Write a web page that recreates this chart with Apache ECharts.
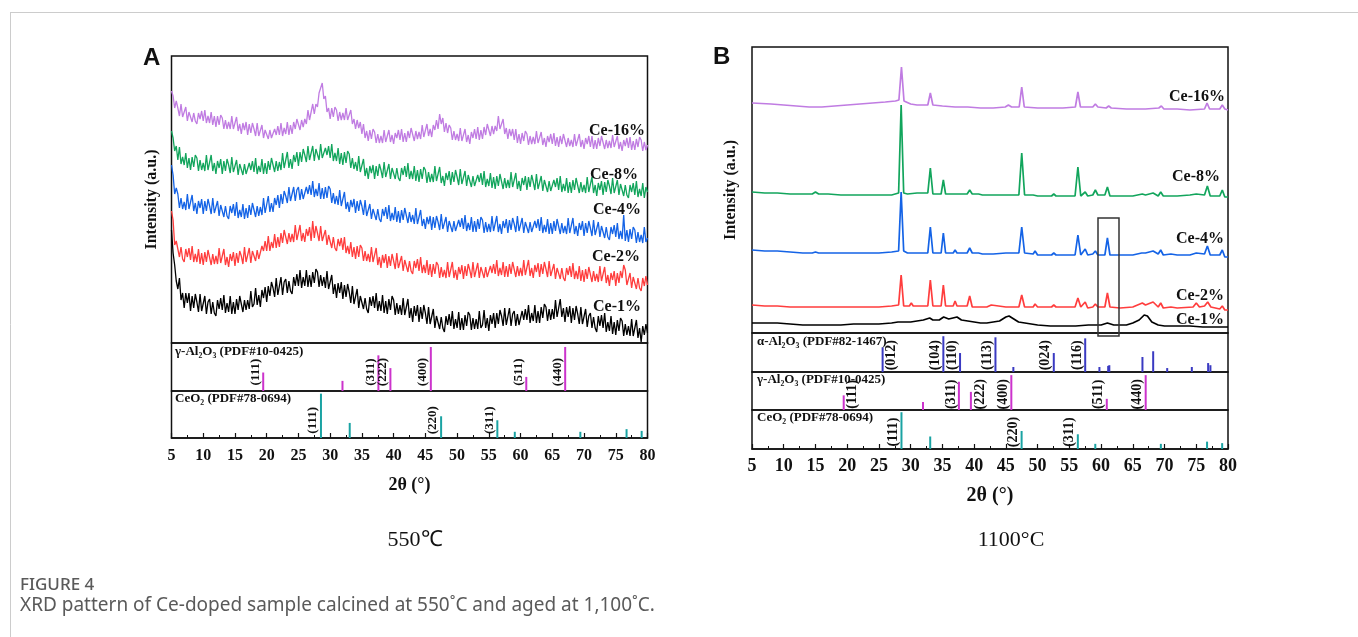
<!DOCTYPE html>
<html>
<head>
<meta charset="utf-8">
<script src="https://cdn.jsdelivr.net/npm/echarts/dist/echarts.min.js"></script>
<style>
  html, body { margin: 0; padding: 0; background: #ffffff; }
  #chart { width: 1358px; height: 637px; }
</style>
</head>
<body>
<div id="chart"></div>
<script>
// ---------- XRD data ----------
// 550 °C patterns: intensity (a.u., offset per sample), sampled every 0.25° from 5° to 80°
const THETA_START = 5;
const THETA_STEP = 0.25;

const a550Ce16 = [
252,247,235,242, 235,227,239,226, 225,236,222,231, 232,221,230,222, 219,230,224,232,
222,233,220,227, 220,231,218,227, 216,227,218,228, 225,214,223,214, 221,214,227,214,
215,226,212,219, 209,220,213,221, 208,219,210,220, 214,207,220,207, 207,218,205,213,
215,204,213,205, 203,214,208,217, 208,220,207,215, 209,221,208,218, 209,221,214,224,
223,213,223,216, 224,219,233,223, 225,239,229,239, 236,250,252,260, 244,247,231,235,
224,235,226,236, 233,222,231,223, 230,223,235,223, 223,233,219,224, 214,223,215,221,
209,219,205,212, 202,213,204,214, 211,200,209,200, 207,200,213,201, 202,213,201,208,
199,210,205,213, 203,214,201,210, 201,212,205,215, 213,202,212,204, 211,204,218,206,
207,219,207,214, 206,218,213,223, 214,229,219,225, 211,220,210,218, 215,203,212,203,
209,202,215,202, 203,214,201,208, 199,211,205,214, 204,216,203,213, 204,216,208,219,
217,207,217,209, 217,212,227,214, 214,224,209,215, 204,214,207,214, 203,214,200,209,
199,210,202,212, 209,198,207,199, 206,199,212,200, 200,211,198,205, 196,207,201,209,
199,210,197,206, 196,207,199,209, 207,196,205,197, 203,196,209,197, 198,209,196,203,
194,205,199,207, 196,207,194,203, 194,205,197,207, 205,194,203,195, 202,195,208,196,
196,207,194,201, 192,203,197,205, 195,206,193,202, 193,204,196,206, 203,192,201,193,
198];

const a550Ce8 = [
212,205,192,197, 183,196,179,186, 178,190,175,185, 173,186,176,188, 185,172,183,173,
180,172,188,173, 174,188,172,180, 169,182,175,184, 169,182,172,184, 178,170,186,171,
170,183,168,179, 181,168,179,169, 167,180,173,182, 171,185,169,177, 171,184,169,180,
169,182,173,185, 183,171,182,172, 181,173,190,175, 176,191,175,184, 174,188,181,191,
177,191,181,194, 188,181,197,183, 183,197,182,194, 196,183,199,185, 183,195,188,197,
185,199,182,190, 182,195,179,190, 178,191,180,192, 189,175,185,174, 181,172,187,171,
171,184,167,175, 164,177,170,178, 164,177,167,179, 173,165,181,166, 166,179,164,175,
177,164,175,165, 162,175,168,177, 166,180,164,172, 164,177,162,173, 161,174,164,176,
173,160,171,161, 169,161,177,162, 162,176,160,167, 157,170,163,172, 158,171,161,173,
166,158,174,159, 159,172,157,168, 169,156,167,157, 155,168,161,170, 158,172,156,164,
157,170,155,166, 154,167,157,169, 167,154,165,155, 163,155,171,156, 156,170,154,162,
152,165,158,167, 153,166,156,168, 161,153,169,154, 154,167,152,163, 164,151,162,152,
150,163,156,165, 153,167,151,159, 152,165,150,161, 150,163,153,165, 163,150,161,151,
158,150,166,151, 152,166,150,158, 147,160,153,162, 148,161,151,163, 157,149,165,150,
150,163,148,159, 160,147,158,148, 145,158,151,160, 148,162,146,154, 147,160,145,156,
151];

const a550Ce4 = [
178,168,149,155, 149,135,145,134, 141,133,149,134, 134,148,132,140, 129,142,135,144,
129,142,132,144, 137,129,145,130, 129,142,127,138, 139,126,137,127, 124,137,130,139,
127,141,125,133, 126,139,124,135, 125,138,128,140, 139,126,137,127, 136,128,145,130,
132,147,131,140, 131,145,138,148, 135,149,139,152, 147,140,156,142, 143,156,142,153,
156,143,154,144, 143,156,149,158, 148,162,146,154, 147,160,144,155, 144,156,145,157,
154,140,150,139, 147,138,153,137, 138,151,134,141, 131,143,136,144, 130,142,132,143,
137,128,143,127, 127,139,124,134, 136,123,134,124, 121,134,127,136, 124,138,122,130,
123,136,121,132, 120,133,123,135, 133,120,131,121, 128,119,135,119, 120,133,117,124,
114,126,119,127, 113,126,115,127, 121,113,129,114, 113,126,111,122, 124,111,122,112,
110,123,116,125, 114,128,112,120, 113,126,111,122, 111,124,114,126, 123,110,121,111,
119,111,127,112, 113,127,111,119, 109,122,115,124, 110,123,113,125, 119,111,127,112,
112,125,110,121, 123,110,121,111, 109,122,115,124, 112,126,110,118, 111,124,109,120,
109,122,112,124, 122,109,120,110, 117,109,125,110, 111,125,109,117, 107,120,113,122,
107,120,110,122, 115,107,123,108, 108,121,106,117, 118,105,116,106, 103,116,109,118,
106,120,104,112, 104,128,102,113, 101,114,104,116, 113,100,111,101, 108,100,116,101,
105];

const a550Ce2 = [
132,123,98,102, 100,86,96,84, 81,94,86,95, 83,97,81,89, 81,94,79,90,
78,91,81,93, 91,78,89,79, 87,79,95,80, 80,94,78,86, 76,89,82,91,
77,90,80,92, 87,79,96,81, 81,95,80,92, 94,82,93,84, 83,97,92,102,
92,107,92,101, 95,109,95,106, 96,110,100,113, 111,99,110,101, 109,101,118,103,
104,118,102,110, 101,114,107,116, 102,122,105,117, 110,102,117,102, 101,113,98,108,
109,95,106,95, 92,104,97,105, 93,106,90,97, 89,101,86,96, 84,97,86,98,
95,82,92,82, 89,81,96,81, 81,95,78,86, 75,88,80,89, 75,87,77,89,
82,74,90,75, 74,87,72,83, 84,71,82,72, 69,82,75,84, 72,86,70,78,
70,83,68,79, 66,79,69,81, 78,65,76,66, 73,65,81,66, 67,81,65,73,
63,76,69,78, 64,77,67,79, 73,65,81,66, 67,80,65,76, 78,65,76,66,
64,77,70,79, 69,83,67,75, 68,81,66,77, 66,79,69,81, 79,66,77,67,
75,67,83,68, 69,83,67,75, 65,78,71,80, 66,79,69,81, 74,66,82,67,
66,79,64,75, 77,64,75,65, 62,75,68,77, 66,80,64,72, 64,77,62,73,
61,74,64,76, 74,61,72,62, 69,61,77,62, 62,76,60,68, 57,70,63,72,
57,70,60,72, 65,78,73,58, 57,70,55,66, 67,54,65,55, 52,65,57,67,
58];

const a550Ce1 = [
113,90,78,62, 54,65,43,50, 35,50,40,50, 32,47,35,49, 41,31,49,32,
31,47,29,41, 44,29,41,30, 27,43,34,45, 33,48,30,40, 31,47,29,41,
29,44,33,47, 45,31,43,33, 43,34,52,36, 39,55,38,48, 36,53,45,56,
41,57,47,61, 55,46,65,48, 49,66,48,61, 64,50,62,52, 49,66,57,69,
57,73,55,66, 57,73,56,68, 56,71,60,74, 71,56,68,57, 66,55,72,54,
54,68,49,59, 45,60,50,61, 44,58,46,59, 51,40,57,39, 38,54,35,47,
49,34,45,34, 30,46,37,47, 35,50,32,42, 32,48,30,42, 29,44,33,47,
43,28,40,29, 38,28,45,28, 29,44,25,35, 21,37,27,38, 21,36,24,38,
30,19,36,19, 18,34,15,27, 29,14,26,15, 11,27,18,29, 17,32,14,24,
15,31,13,25, 13,28,17,31, 28,13,25,14, 24,14,32,15, 18,33,15,25,
12,28,19,30, 15,30,19,33, 27,17,35,18, 19,35,17,29, 32,17,29,18,
16,32,23,34, 23,38,20,30, 22,38,20,32, 20,36,25,39, 36,22,34,23,
34,24,43,26, 28,44,26,35, 21,36,26,37, 20,35,23,37, 29,19,36,19,
19,34,16,27, 30,15,26,15, 11,27,17,28, 15,30,11,21, 12,27,9,21,
8,23,12,25, 22,7,19,8, 17,7,24,7, 9,23,5,15, 1,17,8,19,
10];

// 1100 °C patterns: [2θ, intensity]
const b1100Ce16 = [[5,230],[8,229],[10,228],[12,227],[14,226],[16,226],[18,227],[20,228],[22,229],[24,230],[26,231],[27.6,232],[28.15,233],[28.55,266],[28.95,232],[30,229],[31,228],[32.7,228],[33.1,240],[33.5,228],[35,227],[37,226],[39,226],[41,225],[43,225],[44.9,226],[45.4,228],[45.9,226],[47.1,226],[47.5,246],[47.9,226],[50,225],[52,225],[54,225],[55.95,226],[56.35,241],[56.75,226],[58.7,226],[59.1,229],[59.5,226],[60.8,225],[61.2,227],[61.6,225],[64,224],[67,224],[69.1,225],[69.5,227],[69.9,224],[72,224],[74,223],[76.3,224],[76.7,230],[77.1,224],[78.7,224],[79.1,228],[79.5,224],[80,223]];
const b1100Ce8 = [[5,141],[7,140],[9,140],[11,139],[13,139],[14.5,139],[15,141],[15.5,139],[17,139],[19,138],[21,138],[23,138],[25,138],[27,138],[28.1,140],[28.5,228],[28.9,140],[29.5,139],[31,140],[32.7,140],[33.1,165],[33.5,139],[34.8,139],[35.15,153],[35.5,139],[36.7,139],[37.0,141],[37.3,139],[38.9,139],[39.3,143],[39.7,139],[40.7,139],[41.0,140],[41.3,138],[43,138],[45,138],[47.05,138],[47.5,180],[47.95,138],[49.3,138],[49.6,140],[50,137],[52.2,137],[52.55,139],[52.9,137],[55.9,137],[56.35,166],[56.8,137],[57.5,141],[57.9,137],[58.7,138],[59.1,143],[59.5,138],[60.6,138],[61.0,146],[61.4,137],[63,137],[65,137],[66.5,139],[67,138],[68.2,140],[69,137],[69.4,141],[69.8,137],[72,137],[74,138],[75,139],[76.3,138],[76.75,147],[77.2,137],[78.7,137],[79.1,143],[79.5,136],[80,136]];
const b1100Ce4 = [[5,83],[7,82],[9,82],[11,81],[13,80],[14.5,80],[15,81],[15.5,80],[17,80],[19,80],[21,80],[23,80],[25,80],[27,81],[28.1,82],[28.5,141],[28.9,82],[29.5,80],[31,80],[32.7,80],[33.1,106],[33.5,80],[34.8,80],[35.15,100],[35.5,80],[36.7,80],[37.0,83],[37.3,80],[38.9,80],[39.3,85],[39.7,80],[40.7,80],[41.0,82],[41.3,79],[42.4,79],[42.7,81],[43,79],[45,80],[47.05,80],[47.5,106],[47.95,80],[49.3,79],[49.6,82],[50,78],[52.2,78],[52.55,80],[52.9,78],[55.9,78],[56.35,98],[56.8,78],[57.5,84],[57.9,78],[58.7,79],[59.1,82],[59.5,78],[60.6,78],[61.0,95],[61.4,78],[63,78],[65,78],[66.4,80],[66.7,79],[67,80],[68.2,82],[69,79],[69.4,83],[69.8,78],[71,79],[72,78],[74,78],[75,80],[76.3,79],[76.75,87],[77.2,78],[78.7,78],[79.1,83],[79.5,76],[80,76]];
const b1100Ce2 = [[5,28],[7,27],[9,27],[11,26],[13,26],[15,26],[17,26],[19,26],[21,26],[23,26],[25,26],[27,27],[28.1,28],[28.5,58],[28.9,27],[29.8,27],[30.1,30],[30.4,27],[32.7,27],[33.1,53],[33.5,27],[34.8,27],[35.15,48],[35.5,27],[36.7,27],[37.0,32],[37.3,27],[38.9,27],[39.3,37],[39.7,26],[42,26],[42.7,28],[43,26],[45,26],[47.05,26],[47.5,38],[47.95,26],[49.3,26],[49.6,29],[50,26],[52.2,26],[52.55,28],[52.9,26],[55.9,26],[56.35,35],[56.8,26],[57.5,31],[57.9,25],[58.7,26],[59.1,29],[59.5,26],[60.6,26],[61.0,40],[61.4,26],[63,25],[65,26],[66.5,30],[67,28],[68.2,31],[69,26],[69.4,30],[69.8,25],[71,26],[72,25],[74.5,26],[75,30],[75.5,26],[76.3,27],[76.8,31],[77.3,26],[78.7,24],[79.1,27],[79.5,23],[80,23]];
const b1100Ce1 = [[5,10],[7,10],[9,10],[11,9],[13,8],[15,8],[17,8],[19,8],[21,9],[23,9],[25,9],[27,10],[28,11],[29,11],[30,11],[31,12],[32,13],[33,15],[33.5,13],[34.5,13],[35.2,16],[36,14],[37.3,16],[38,13],[39,12],[40,11],[41,10],[42,10],[43,11],[44,12],[45,16],[45.5,17],[46,15],[47,11],[48,10],[50,8],[52,7],[54,7],[56,7],[58,8],[60,8],[61,10],[62,8],[64,8],[65,10],[66,13],[66.8,18],[67.3,17],[68,11],[69,8],[70,7],[72,7],[74,7],[76,6],[78,6],[80,6]];

// Reference patterns (2θ, relative intensity %)
const alphaTheta = [25.58, 35.15, 37.78, 43.36, 46.18, 52.55, 57.50, 59.74, 61.12, 61.30, 66.52, 68.21, 70.42, 74.30, 76.87, 77.23];
const alphaInt   = [69, 100, 53, 97, 14, 53, 94, 14, 17, 19, 42, 58, 11, 14, 25, 19];
const gammaTheta = [19.45, 31.94, 37.60, 39.49, 45.86, 60.90, 67.03];
const gammaInt   = [42, 23, 81, 52, 100, 32, 100];
const ceriaTheta = [28.55, 33.08, 47.48, 56.34, 59.09, 69.42, 76.70, 79.08];
const ceriaInt   = [100, 34, 49, 40, 14, 14, 20, 16];

// Miller indices: [label, 2θ, side of the stick]
const alphaHkl  = [['(012)', 25.58, 'R'], ['(104)', 35.15, 'L'], ['(110)', 37.78, 'L'], ['(113)', 43.36, 'L'], ['(024)', 52.55, 'L'], ['(116)', 57.50, 'L']];
const gammaHklA = [['(111)', 19.45, 'L'], ['(311)', 37.60, 'L'], ['(222)', 39.49, 'L'], ['(400)', 45.86, 'L'], ['(511)', 60.90, 'L'], ['(440)', 67.03, 'L']];
const gammaHklB = [['(111)', 19.45, 'R'], ['(311)', 37.60, 'L'], ['(222)', 39.49, 'R'], ['(400)', 45.86, 'L'], ['(511)', 60.90, 'L'], ['(440)', 67.03, 'L']];
const ceriaHkl  = [['(111)', 28.55, 'L'], ['(220)', 47.48, 'L'], ['(311)', 56.34, 'L']];

const xTicks = [5, 10, 15, 20, 25, 30, 35, 40, 45, 50, 55, 60, 65, 70, 75, 80];

// ---------- styling ----------
const SERIF = '"Liberation Serif","Times New Roman",serif';
const SANS = '"Liberation Sans",Arial,sans-serif';
const INK = '#111111';
const COL = { ce16: '#c07ce2', ce8: '#12a55c', ce4: '#1463e6', ce2: '#ff3d3d', ce1: '#000000' };
const COL_ALPHA = '#3a3ac2', COL_GAMMA = '#cc33cc', COL_CERIA = '#1aa3a3';

const chart = echarts.init(document.getElementById('chart'), null, { renderer: 'canvas' });

function grid(left, top, width, height) {
  return { left, top, width, height, show: true, borderColor: INK, borderWidth: 1.5,
           backgroundColor: 'transparent', containLabel: false, outerBoundsMode: 'none' };
}
const grids = [
  grid(171.5, 56, 476, 287),  // 0  A patterns
  grid(171.5, 343, 476, 48),  // 1  A γ-Al2O3
  grid(171.5, 391, 476, 47),  // 2  A CeO2
  grid(752, 47, 476, 286),    // 3  B patterns
  grid(752, 333, 476, 39),    // 4  B α-Al2O3
  grid(752, 372, 476, 38),    // 5  B γ-Al2O3
  grid(752, 410, 476, 39)     // 6  B CeO2
];

function hiddenX(gi) {
  return { gridIndex: gi, type: 'value', min: xTicks[0], max: xTicks[xTicks.length - 1], show: false };
}
function bottomX(gi, fs, nameGap, margin) {
  return {
    gridIndex: gi, type: 'value', min: xTicks[0], max: xTicks[xTicks.length - 1], interval: 5,
    name: '2θ (°)', nameLocation: 'middle', nameGap,
    nameTextStyle: { fontFamily: SERIF, fontWeight: 'bold', fontSize: fs + 2, color: INK },
    axisLine: { show: true, lineStyle: { color: INK, width: 1.5 } },
    axisTick: { show: true, inside: true, length: 5, lineStyle: { color: INK, width: 1.2 } },
    minorTick: { show: true, splitNumber: 2, length: 3, lineStyle: { color: INK, width: 1 } },
    axisLabel: { fontFamily: SERIF, fontWeight: 'bold', fontSize: fs, color: INK, margin, showMinLabel: true, showMaxLabel: true },
    splitLine: { show: false }, minorSplitLine: { show: false }
  };
}
const xAxes = [hiddenX(0), hiddenX(1), bottomX(2, 16, 38, 10), hiddenX(3), hiddenX(4), hiddenX(5), bottomX(6, 18, 37, 8)];

function mainY(gi, max, nameGap) {
  return {
    gridIndex: gi, type: 'value', min: 0, max, name: 'Intensity (a.u.)', nameLocation: 'middle', nameGap,
    nameTextStyle: { fontFamily: SERIF, fontWeight: 'bold', fontSize: 16, color: INK },
    axisLine: { show: false }, axisTick: { show: false }, axisLabel: { show: false }, splitLine: { show: false }
  };
}
function refY(gi, max) {
  return { gridIndex: gi, type: 'value', min: 0, max, show: false, splitLine: { show: false } };
}
const yAxes = [mainY(0, 287, 12), refY(1, 109), refY(2, 106), mainY(3, 286, 13), refY(4, 109), refY(5, 109), refY(6, 106)];

// ---------- series ----------
function sampled(values) {
  return values.map((v, i) => [THETA_START + i * THETA_STEP, v]);
}
function trace(name, data, color, gi, width) {
  return { name, type: 'line', xAxisIndex: gi, yAxisIndex: gi, data, symbol: 'none', showSymbol: false,
           lineStyle: { color, width }, itemStyle: { color }, silent: true, z: 3 };
}
function sticks(gi, thetas, ints, color) {
  return {
    type: 'custom', xAxisIndex: gi, yAxisIndex: gi, silent: true, itemStyle: { color },
    data: thetas.map((t, i) => [t, ints[i]]),
    renderItem(params, api) {
      const b = api.coord([api.value(0), 0]);
      const t = api.coord([api.value(0), api.value(1)]);
      return { type: 'rect', shape: { x: b[0] - 1, y: t[1], width: 2, height: b[1] - t[1] }, style: { fill: color } };
    }
  };
}
function hklLabels(gi, list, yAnchor, fs) {
  return {
    type: 'custom', xAxisIndex: gi, yAxisIndex: gi, silent: true, clip: false, z: 4,
    data: list.map(d => [d[1], yAnchor]),
    renderItem(params, api) {
      const item = list[params.dataIndex];
      const p = api.coord([api.value(0), api.value(1)]);
      const dx = item[2] === 'R' ? 9 : -8;
      return {
        type: 'text', x: p[0] + dx, y: p[1], rotation: Math.PI / 2,
        style: { text: item[0], font: 'bold ' + fs + 'px ' + SERIF, fill: INK, align: 'center', verticalAlign: 'middle' }
      };
    }
  };
}

const series = [
  trace('Ce-16%', sampled(a550Ce16), COL.ce16, 0, 1.3),
  trace('Ce-8%', sampled(a550Ce8), COL.ce8, 0, 1.3),
  trace('Ce-4%', sampled(a550Ce4), COL.ce4, 0, 1.3),
  trace('Ce-2%', sampled(a550Ce2), COL.ce2, 0, 1.3),
  trace('Ce-1%', sampled(a550Ce1), COL.ce1, 0, 1.3),
  sticks(1, gammaTheta, gammaInt, COL_GAMMA),
  sticks(2, ceriaTheta, ceriaInt, COL_CERIA),
  hklLabels(1, gammaHklA, 43, 13),
  hklLabels(2, ceriaHkl, 40, 13),

  trace('Ce-16%', b1100Ce16, COL.ce16, 3, 1.7),
  trace('Ce-8%', b1100Ce8, COL.ce8, 3, 1.7),
  trace('Ce-4%', b1100Ce4, COL.ce4, 3, 1.7),
  trace('Ce-2%', b1100Ce2, COL.ce2, 3, 1.7),
  trace('Ce-1%', b1100Ce1, COL.ce1, 3, 1.7),
  sticks(4, alphaTheta, alphaInt, COL_ALPHA),
  sticks(5, gammaTheta, gammaInt, COL_GAMMA),
  sticks(6, ceriaTheta, ceriaInt, COL_CERIA),
  hklLabels(4, alphaHkl, 47, 14),
  hklLabels(5, gammaHklB, 45, 14),
  hklLabels(6, ceriaHkl, 46, 14)
];

// ---------- annotations ----------
function txt(x, y, text, font, align, fill) {
  return { type: 'text', x, y, silent: true, z: 10,
           style: { text, font, fill: fill || INK, align: align || 'left', verticalAlign: 'middle' } };
}
const LBL = 'bold 16px ' + SERIF;
const BOX = 'bold 13px ' + SERIF;
const CAP_FONT = '"Noto Sans", "Open Sans", sans-serif';
const graphic = [
  // page card edges
  { type: 'line', silent: true, shape: { x1: 10, y1: 12.5, x2: 1358, y2: 12.5 }, style: { stroke: '#cccccc', lineWidth: 1 } },
  { type: 'line', silent: true, shape: { x1: 10.5, y1: 12, x2: 10.5, y2: 637 }, style: { stroke: '#cccccc', lineWidth: 1 } },

  txt(143, 58, 'A', 'bold 24px ' + SANS),
  txt(713, 57, 'B', 'bold 24px ' + SANS),

  txt(645, 131, 'Ce-16%', LBL, 'right'),
  txt(638, 175, 'Ce-8%', LBL, 'right'),
  txt(641, 210, 'Ce-4%', LBL, 'right'),
  txt(640, 257, 'Ce-2%', LBL, 'right'),
  txt(641, 307, 'Ce-1%', LBL, 'right'),

  txt(1225, 97, 'Ce-16%', LBL, 'right'),
  txt(1220, 177, 'Ce-8%', LBL, 'right'),
  txt(1224, 239, 'Ce-4%', LBL, 'right'),
  txt(1224, 296, 'Ce-2%', LBL, 'right'),
  txt(1224, 320, 'Ce-1%', LBL, 'right'),

  txt(175, 352, 'γ-Al₂O₃ (PDF#10-0425)', BOX),
  txt(175, 399, 'CeO₂ (PDF#78-0694)', BOX),
  txt(757, 342, 'α-Al₂O₃ (PDF#82-1467)', BOX),
  txt(757, 380, 'γ-Al₂O₃ (PDF#10-0425)', BOX),
  txt(757, 418, 'CeO₂ (PDF#78-0694)', BOX),

  // highlighted region around the γ-Al2O3 (511) reflection
  { type: 'rect', silent: true, z: 10, shape: { x: 1098, y: 218, width: 21, height: 118 },
    style: { fill: 'none', stroke: '#333333', lineWidth: 1.5 } },

  txt(415, 540, '550℃', '22px ' + SERIF, 'center'),
  txt(1011, 540, '1100°C', '22px ' + SERIF, 'center'),

  txt(20, 585, 'FIGURE 4', '500 17px ' + CAP_FONT, 'left', '#5a5a5a'),
  txt(20, 606, 'XRD pattern of Ce-doped sample calcined at 550˚C and aged at 1,100˚C.', '19px ' + CAP_FONT, 'left', '#5a5a5a')
];

chart.setOption({
  animation: false,
  backgroundColor: '#ffffff',
  grid: grids,
  xAxis: xAxes,
  yAxis: yAxes,
  series,
  graphic
});
</script>
</body>
</html>
